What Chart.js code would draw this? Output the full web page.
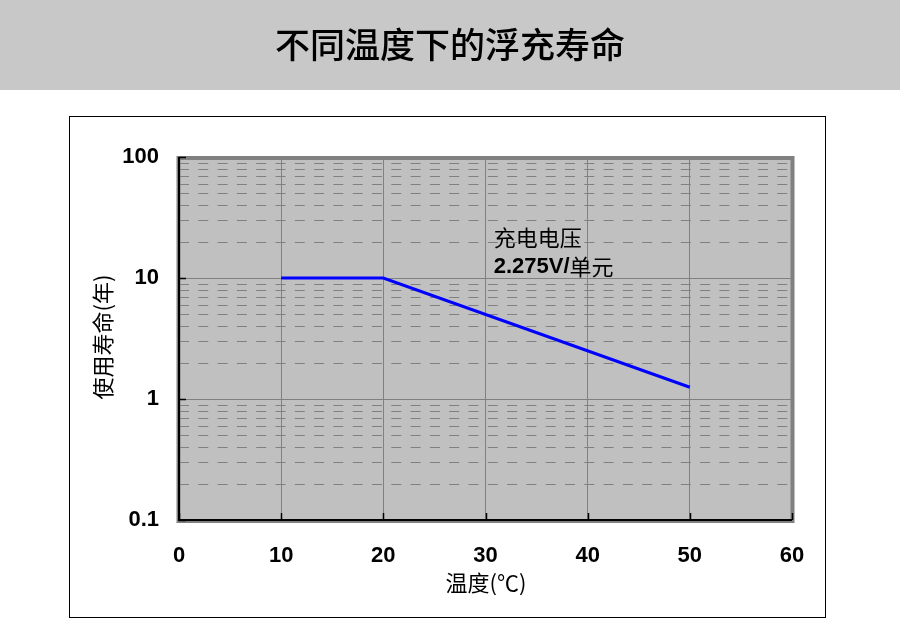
<!DOCTYPE html>
<html>
<head>
<meta charset="utf-8">
<script src="https://cdn.jsdelivr.net/npm/chart.js@4/dist/chart.umd.min.js"></script>
<style>
html,body{margin:0;padding:0;background:#fff;}
canvas{display:block;}
</style>
</head>
<body>
<canvas id="c" width="900" height="633"></canvas>
<script>
// ---- data ----
const chartTitle = '不同温度下的浮充寿命';
const temperatures = [10, 20, 50];          // ℃
const lifeYears = [10, 10, 1.25];            // years
const xTickValues = [0, 10, 20, 30, 40, 50, 60];
const yTickValues = [0.1, 1, 10, 100];
const yTickLabels = ['0.1', '1', '10', '100'];
const xAxisTitle = '温度(℃)';
const yAxisTitle = '使用寿命(年)';
const noteLine1 = '充电电压';
const noteLine2Bold = '2.275V/';
const noteLine2Rest = '单元';
const noteAt = {x: 30.8, y: 21.5};           // data coords of the note

const CJK = '"Noto Sans CJK SC", "Noto Sans", sans-serif';
const LAT = '"Liberation Sans", Arial, sans-serif';

const decorPlugin = {
  id: 'decor',
  beforeDraw(chart) {
    const ctx = chart.ctx, a = chart.chartArea;
    const xs = chart.scales.x, ys = chart.scales.y;
    ctx.save();
    ctx.fillStyle = '#ffffff';
    ctx.fillRect(0, 0, chart.width, chart.height);
    // title bar
    ctx.fillStyle = '#c8c8c8';
    ctx.fillRect(0, 0, chart.width, 90);
    ctx.fillStyle = '#000';
    ctx.font = '500 35px ' + CJK;
    ctx.textAlign = 'center';
    ctx.textBaseline = 'middle';
    ctx.fillText(chartTitle, 450, 45);
    // outer box
    ctx.strokeStyle = '#000';
    ctx.lineWidth = 1;
    ctx.strokeRect(69.5, 116.5, 756, 501);
    // plot bg
    ctx.fillStyle = '#c0c0c0';
    ctx.fillRect(a.left, a.top, a.right - a.left, a.bottom - a.top);
    // minor dashed grid lines
    ctx.strokeStyle = '#808080';
    ctx.lineWidth = 1;
    ctx.setLineDash([10, 9.3]);
    for (let d = 0; d < yTickValues.length - 1; d++) {
      const base = yTickValues[d];
      for (let m = 2; m <= 9; m++) {
        const y = Math.round(ys.getPixelForValue(base * m)) + 0.5;
        ctx.beginPath();
        ctx.moveTo(a.left, y);
        ctx.lineTo(a.right, y);
        ctx.stroke();
      }
    }
    ctx.setLineDash([]);
    ctx.restore();
  },
  afterDraw(chart) {
    const ctx = chart.ctx, a = chart.chartArea;
    const xs = chart.scales.x, ys = chart.scales.y;
    ctx.save();
    // frame: gray shadow border
    ctx.strokeStyle = '#808080';
    ctx.lineWidth = 4;
    ctx.strokeRect(a.left - 0.5, a.top + 1, a.right - a.left + 1, a.bottom - a.top);
    // black left / bottom axes
    ctx.strokeStyle = '#000';
    ctx.lineWidth = 2;
    ctx.beginPath();
    ctx.moveTo(a.left, a.top);
    ctx.lineTo(a.left, a.bottom);
    ctx.lineTo(a.right, a.bottom);
    ctx.stroke();
    // ticks
    ctx.lineWidth = 1.5;
    yTickValues.forEach(v => {
      const y = Math.round(ys.getPixelForValue(v)) + 0.5;
      ctx.beginPath();
      ctx.moveTo(a.left, y);
      ctx.lineTo(a.left + 7, y);
      ctx.stroke();
    });
    xTickValues.forEach(v => {
      const x = Math.round(xs.getPixelForValue(v)) + 0.5;
      ctx.beginPath();
      ctx.moveTo(x, a.bottom);
      ctx.lineTo(x, a.bottom - 7);
      ctx.stroke();
    });
    // note
    const nx = xs.getPixelForValue(noteAt.x);
    const ny = ys.getPixelForValue(noteAt.y);
    ctx.fillStyle = '#000';
    ctx.textAlign = 'left';
    ctx.textBaseline = 'middle';
    ctx.font = '22px ' + CJK;
    ctx.fillText(noteLine1, nx, ny);
    ctx.font = 'bold 22px ' + LAT;
    ctx.fillText(noteLine2Bold, nx, ny + 29);
    const w = ctx.measureText(noteLine2Bold).width;
    ctx.font = '22px ' + CJK;
    ctx.fillText(noteLine2Rest, nx + w, ny + 29);
    // axis titles
    ctx.font = '22px ' + CJK;
    ctx.textAlign = 'center';
    ctx.fillText(xAxisTitle, 486, 583);
    ctx.translate(103, 337);
    ctx.rotate(-Math.PI / 2);
    ctx.fillText(yAxisTitle, 0, 0);
    ctx.restore();
  }
};

new Chart(document.getElementById('c'), {
  type: 'line',
  data: {
    datasets: [{
      data: temperatures.map((t, i) => ({x: t, y: lifeYears[i]})),
      borderColor: '#0000ff',
      borderWidth: 3,
      pointRadius: 0,
      tension: 0,
      fill: false
    }]
  },
  options: {
    responsive: false,
    devicePixelRatio: 1,
    animation: false,
    layout: {padding: {left: 0, top: 157, right: 108, bottom: 0}},
    plugins: {legend: {display: false}, tooltip: {enabled: false}, title: {display: false}},
    scales: {
      x: {
        type: 'linear',
        min: 0, max: 60,
        afterFit(s) { s.height = 113; },
        afterBuildTicks(s) { s.ticks = xTickValues.map(v => ({value: v})); },
        ticks: {
          color: '#000',
          font: {family: LAT, size: 22, weight: 'bold'},
          padding: 23,
          maxRotation: 0,
          autoSkip: false
        },
        grid: {color: '#808080', lineWidth: 1, drawTicks: false},
        border: {display: false}
      },
      y: {
        type: 'logarithmic',
        min: 0.1, max: 100,
        afterFit(s) { s.width = 179; },
        afterBuildTicks(s) { s.ticks = yTickValues.map(v => ({value: v, major: true})); },
        ticks: {
          color: '#000',
          font: {family: LAT, size: 22, weight: 'bold'},
          padding: 20,
          autoSkip: false,
          callback: (v) => yTickLabels[yTickValues.indexOf(v)] ?? ''
        },
        grid: {color: '#808080', lineWidth: 1, drawTicks: false},
        border: {display: false}
      }
    }
  },
  plugins: [decorPlugin]
});
</script>
</body>
</html>
